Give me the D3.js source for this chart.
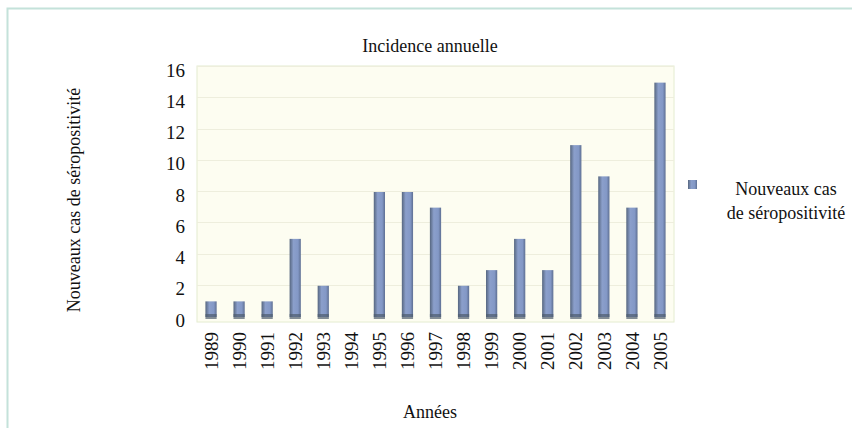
<!DOCTYPE html>
<html>
<head>
<meta charset="utf-8">
<script src="https://cdn.jsdelivr.net/npm/d3@7"></script>
<style>
  body { margin: 0; background: #fff; }
</style>
</head>
<body>
<svg></svg>
<script>
// ---- DATA ----
const years = ["1989","1990","1991","1992","1993","1994","1995","1996","1997","1998","1999","2000","2001","2002","2003","2004","2005"];
const cases = [1, 1, 1, 5, 2, 0, 8, 8, 7, 2, 3, 5, 3, 11, 9, 7, 15];
const yTicks = [0, 2, 4, 6, 8, 10, 12, 14, 16];
const seriesName = ["Nouveaux cas", "de séropositivité"];

const W = 852, H = 428;
const FONT = "Times, 'Times New Roman', 'Liberation Serif', 'DejaVu Serif', serif";
const svg = d3.select("svg").attr("width", W).attr("height", H)
    .attr("font-family", FONT);

// page frame
svg.append("path")
    .attr("d", `M7.5,${H} V8.5 H${W}`)
    .attr("fill", "none")
    .attr("stroke", "#c4e2da")
    .attr("stroke-width", 2);

const plot = { left: 197, right: 674, top: 70, bottom: 320 };

// ---- SCALES ----
const x = d3.scaleBand().domain(years).range([plot.left, plot.right]).paddingInner(0.6).paddingOuter(0.3);
const y = d3.scaleLinear().domain([0, 16]).range([plot.bottom, plot.top]);

// gradient for bars
const defs = svg.append("defs");
const grad = defs.append("linearGradient").attr("id", "barGrad").attr("x1", "0").attr("x2", "1");
grad.append("stop").attr("offset", "0%").attr("stop-color", "#56667f");
grad.append("stop").attr("offset", "35%").attr("stop-color", "#8b9fcb");
grad.append("stop").attr("offset", "75%").attr("stop-color", "#8398c6");
grad.append("stop").attr("offset", "100%").attr("stop-color", "#5e6f92");

// plot background
svg.append("rect")
    .attr("x", plot.left).attr("y", plot.top - 4)
    .attr("width", plot.right - plot.left).attr("height", plot.bottom - plot.top + 6)
    .attr("fill", "#fdfdf1")
    .attr("stroke", "#e4ecd0");

// gridlines
svg.append("g").selectAll("line").data(yTicks.filter(d => d > 0)).join("line")
    .attr("x1", plot.left).attr("x2", plot.right)
    .attr("y1", d => Math.round(y(d)) - 3.5).attr("y2", d => Math.round(y(d)) - 3.5)
    .attr("stroke", "#eeeedd");

// ---- AXES ----
const yAxis = d3.axisLeft(y).tickValues(yTicks).tickSize(0).tickPadding(12);
svg.append("g")
    .attr("transform", `translate(${plot.left},0)`)
    .call(yAxis)
    .attr("font-family", FONT)
    .attr("font-size", 19)
    .call(g => g.select(".domain").remove())
    .selectAll("text")
    .attr("fill", "#111");

const xAxis = d3.axisBottom(x).tickSize(0).tickPadding(0);
svg.append("g")
    .attr("transform", `translate(0,${plot.bottom + 10})`)
    .call(xAxis)
    .attr("font-family", FONT)
    .attr("font-size", 19)
    .call(g => g.select(".domain").remove())
    .selectAll("text")
    .attr("fill", "#111")
    .attr("transform", "rotate(-90)")
    .attr("text-anchor", "end")
    .attr("dy", "0.35em")
    .attr("x", -2)
    .attr("y", 0);

// ---- BARS ----
const bars = svg.append("g").selectAll("g").data(years).join("g");
bars.append("rect")
    .attr("x", d => x(d))
    .attr("width", x.bandwidth())
    .attr("y", (d, i) => y(cases[i]) - 3)
    .attr("height", (d, i) => y(0) - y(cases[i]))
    .attr("fill", "url(#barGrad)")
    .attr("display", (d, i) => cases[i] > 0 ? null : "none");
bars.append("rect")
    .attr("x", d => x(d))
    .attr("width", x.bandwidth())
    .attr("y", y(0) - 6)
    .attr("height", 5)
    .attr("fill", "#4f5d6e")
    .attr("opacity", 0.7)
    .attr("display", (d, i) => cases[i] > 0 ? null : "none");

// ---- TITLES ----
const label = (sel) => sel.attr("font-size", 18).attr("fill", "#111");

svg.append("text")
    .attr("x", 430).attr("y", 52)
    .attr("text-anchor", "middle")
    .call(label)
    .text("Incidence annuelle");

svg.append("text")
    .attr("x", 430).attr("y", 418)
    .attr("text-anchor", "middle")
    .call(label)
    .text("Années");

svg.append("text")
    .attr("transform", "translate(80,200) rotate(-90)")
    .attr("text-anchor", "middle")
    .call(label)
    .text("Nouveaux cas de séropositivité");

// ---- LEGEND ----
svg.append("rect")
    .attr("x", 688).attr("y", 180)
    .attr("width", 9).attr("height", 9)
    .attr("fill", "url(#barGrad)");
svg.append("g").selectAll("text").data(seriesName).join("text")
    .attr("x", 786)
    .attr("y", (d, i) => 195 + i * 24)
    .attr("text-anchor", "middle")
    .call(label)
    .text(d => d);
</script>
</body>
</html>
